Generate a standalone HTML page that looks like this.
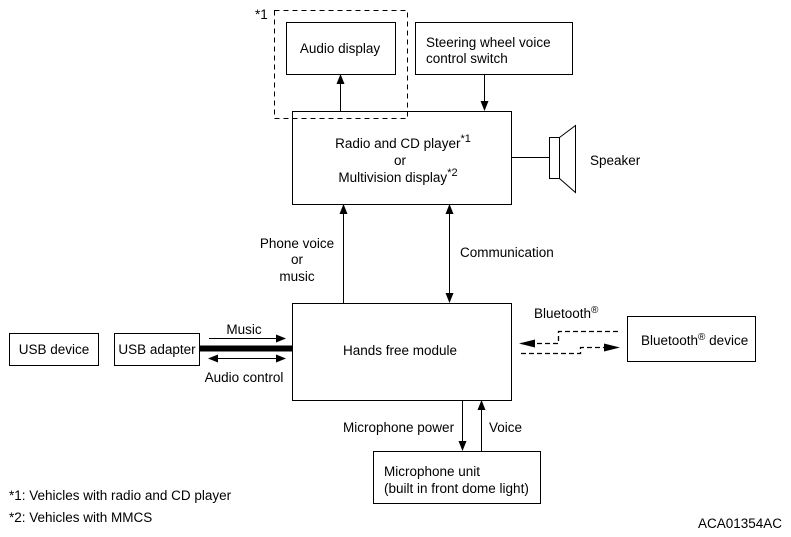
<!DOCTYPE html>
<html><head><style>body{margin:0;background:#fff}svg{display:block}text{font-family:"Liberation Sans",Arial,sans-serif;font-size:13.5px;fill:#000}</style></head>
<body>
<svg width="791" height="537" viewBox="0 0 791 537">
<defs>
<marker id="a" markerWidth="10" markerHeight="8" refX="9" refY="4" orient="auto" markerUnits="userSpaceOnUse"><path d="M0,0L10,4L0,8z" fill="#000"/></marker>
<marker id="b" markerWidth="10" markerHeight="8" refX="1" refY="4" orient="auto" markerUnits="userSpaceOnUse"><path d="M10,0L0,4L10,8z" fill="#000"/></marker>
<marker id="c" markerWidth="16" markerHeight="8" refX="15" refY="4" orient="auto" markerUnits="userSpaceOnUse"><path d="M0,0L16,4L0,8z" fill="#000"/></marker>
</defs>
<g fill="none" stroke="#000" stroke-width="1">
<rect x="274.5" y="10.5" width="133" height="108" stroke-dasharray="5,4"/>
<rect x="286.5" y="22.5" width="109" height="52"/>
<rect x="415.5" y="22.5" width="157" height="52"/>
<rect x="292.5" y="111.5" width="219" height="93"/>
<rect x="292.5" y="303.5" width="219" height="97"/>
<rect x="9.5" y="333.5" width="89" height="32"/>
<rect x="114.5" y="333.5" width="85" height="32"/>
<rect x="627.5" y="316.5" width="128" height="45"/>
<rect x="373.5" y="451.5" width="167" height="52"/>
<line x1="511" y1="157.5" x2="549" y2="157.5"/>
<rect x="549.5" y="137.5" width="10" height="41"/>
<path d="M559.5,137.5L575.5,125.5L575.5,192.5L559.5,178.5"/>
<line x1="340.5" y1="111" x2="340.5" y2="75" marker-end="url(#a)"/>
<line x1="484.5" y1="74" x2="484.5" y2="110" marker-end="url(#a)"/>
<line x1="343.5" y1="303" x2="343.5" y2="205" marker-end="url(#a)"/>
<line x1="449.5" y1="205" x2="449.5" y2="302" marker-start="url(#b)" marker-end="url(#a)"/>
<line x1="199" y1="348.5" x2="292" y2="348.5" stroke-width="6"/>
<line x1="209" y1="338.5" x2="285" y2="338.5" marker-end="url(#a)"/>
<line x1="209" y1="358.5" x2="285" y2="358.5" marker-start="url(#b)" marker-end="url(#a)"/>
<line x1="462.5" y1="400" x2="462.5" y2="450" marker-end="url(#a)"/>
<line x1="481.5" y1="451" x2="481.5" y2="401" marker-end="url(#a)"/>
<path d="M618,331.5H558.5V343.5H520" stroke-dasharray="5,3" stroke-width="1.3" marker-end="url(#c)"/>
<path d="M521,353.5H580.5V347.5H619" stroke-dasharray="5,3" stroke-width="1.3" marker-end="url(#c)"/>
</g>
<text x="255" y="19" font-size="12">*1</text>
<text x="340" y="53" text-anchor="middle">Audio display</text>
<text x="426" y="47">Steering wheel voice</text>
<text x="426" y="63">control switch</text>
<text x="403" y="148" text-anchor="middle">Radio and CD player<tspan dy="-6" font-size="11">*1</tspan></text>
<text x="400" y="165" text-anchor="middle">or</text>
<text x="398" y="182" text-anchor="middle">Multivision display<tspan dy="-6" font-size="11">*2</tspan></text>
<text x="590" y="165">Speaker</text>
<text x="297" y="248" text-anchor="middle">Phone voice</text>
<text x="297" y="264" text-anchor="middle">or</text>
<text x="297" y="281" text-anchor="middle">music</text>
<text x="460" y="257">Communication</text>
<text x="400" y="355" text-anchor="middle">Hands free module</text>
<text x="54" y="354" text-anchor="middle">USB device</text>
<text x="157" y="354" text-anchor="middle">USB adapter</text>
<text x="244" y="334" text-anchor="middle">Music</text>
<text x="244" y="382" text-anchor="middle">Audio control</text>
<text x="534" y="318">Bluetooth<tspan dy="-5" font-size="10">®</tspan></text>
<text x="641" y="345">Bluetooth<tspan dy="-5" font-size="10">®</tspan><tspan dy="5"> device</tspan></text>
<text x="343" y="432">Microphone power</text>
<text x="489" y="432">Voice</text>
<text x="384" y="476">Microphone unit</text>
<text x="384" y="493">(built in front dome light)</text>
<text x="9" y="500">*1: Vehicles with radio and CD player</text>
<text x="9" y="522">*2: Vehicles with MMCS</text>
<text x="782" y="528" text-anchor="end" font-size="11">ACA01354AC</text>
</svg>
</body></html>
